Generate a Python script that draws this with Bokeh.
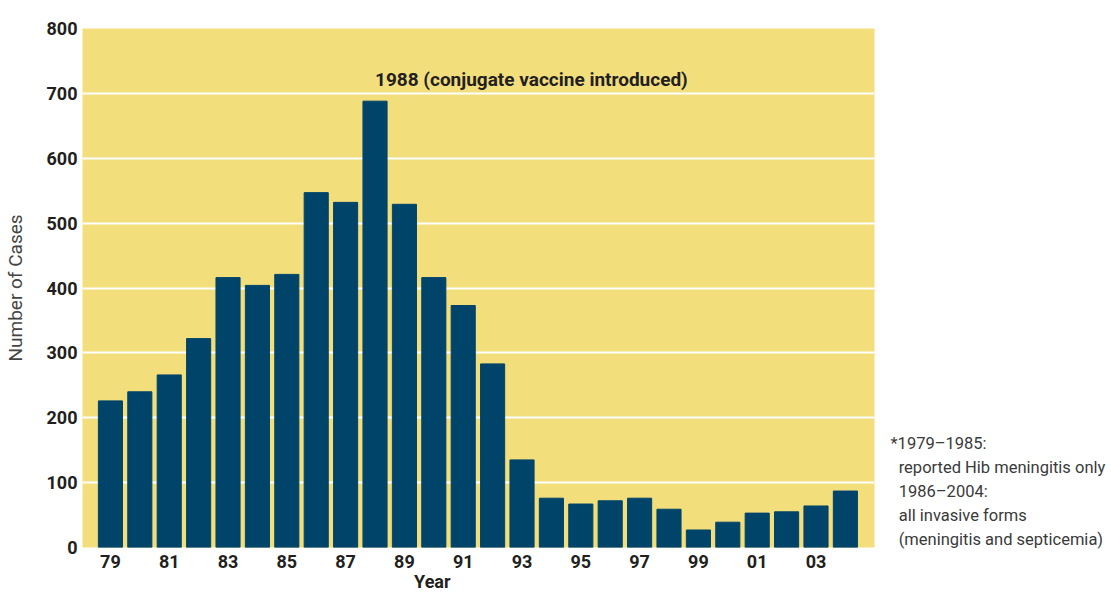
from bokeh.plotting import figure
from bokeh.models import FixedTicker, Label, Range1d, LinearAxis
from bokeh.embed import file_html
from bokeh.resources import INLINE

years = list(range(1979, 2005))
cases = [226, 240, 266, 322, 416, 404, 421, 547, 532, 688, 529, 416, 373, 283,
         135, 76, 67, 72, 76, 59, 27, 39, 53, 55, 64, 87]
tick_years = [1979, 1981, 1983, 1985, 1987, 1989, 1991, 1993, 1995, 1997, 1999, 2001, 2003]
tick_labels = ["79", "81", "83", "85", "87", "89", "91", "93", "95", "97", "99", "01", "03"]
y_ticks = [0, 100, 200, 300, 400, 500, 600, 700, 800]
grid_ticks = [100, 200, 300, 400, 500, 600, 700]
annotation = "1988 (conjugate vaccine introduced)"
note_lines = ["*1979\u20131985:", "\u00a0\u00a0reported Hib meningitis only", "\u00a0\u00a01986\u20132004:",
              "\u00a0\u00a0all invasive forms", "\u00a0\u00a0(meningitis and septicemia)"]

# layout constants (positions of the note lines and the "Year" label)
note_pos = [160, 123, 86, 49, 12]
year_label_pos = 1989.95

FONT = "Roboto"
DARK = "#231F20"

p = figure(frame_width=792, frame_height=519,
           min_border_left=74, min_border_right=229, min_border_top=28, min_border_bottom=41,
           x_range=Range1d(1978.05, 2004.99), y_range=Range1d(0, 800),
           output_backend="svg", toolbar_location=None,
           background_fill_color="#F3DE7C", border_fill_color="white", outline_line_color=None)

p.vbar(x=years, top=cases, width=0.82, color="#00446A")

p.xgrid.grid_line_color = None
p.ygrid.ticker = FixedTicker(ticks=grid_ticks)
p.ygrid.grid_line_color = "white"
p.ygrid.grid_line_width = 2

p.xaxis.ticker = FixedTicker(ticks=tick_years)
p.xaxis.major_label_overrides = {t: l for t, l in zip(tick_years, tick_labels)}
p.yaxis.ticker = FixedTicker(ticks=y_ticks)

# extra axis below carrying the "Year" title
year_axis = LinearAxis(ticker=FixedTicker(ticks=[year_label_pos]),
                       major_label_overrides={year_label_pos: "Year"})
p.add_layout(year_axis, "below")

# right axis carrying the footnote
note_axis = LinearAxis(ticker=FixedTicker(ticks=note_pos),
                       major_label_overrides={v: t for v, t in zip(note_pos, note_lines)})
p.add_layout(note_axis, "right")


def style(ax, size, bold=True, color=DARK):
    ax.axis_line_color = None
    ax.major_tick_line_color = None
    ax.minor_tick_line_color = None
    ax.major_tick_out = 0
    ax.major_tick_in = 0
    ax.minor_tick_out = 0
    ax.minor_tick_in = 0
    ax.major_label_text_font = FONT
    ax.major_label_text_font_style = "bold" if bold else "normal"
    ax.major_label_text_font_size = size
    ax.major_label_text_color = color


style(p.xaxis[0], "18px")
style(p.yaxis[0], "18px")
style(year_axis, "18px")
style(note_axis, "16.5px", bold=False, color="#3A3A3A")

p.xaxis[0].major_label_standoff = 7
year_axis.major_label_standoff = 0
p.yaxis[0].major_label_standoff = 5
note_axis.major_label_standoff = 16
note_axis.major_label_text_align = "left"

p.yaxis[0].axis_label = "Number of Cases"
p.yaxis[0].axis_label_text_font = FONT
p.yaxis[0].axis_label_text_font_style = "normal"
p.yaxis[0].axis_label_text_font_size = "19px"
p.yaxis[0].axis_label_text_color = "#444444"
p.yaxis[0].axis_label_standoff = 17

p.add_layout(Label(x=1988.0, y=722, text=annotation, text_font=FONT, text_font_style="bold",
                   text_font_size="19px", text_color=DARK, text_align="left",
                   text_baseline="middle"))

open("out.html", "w").write(file_html(p, INLINE))
